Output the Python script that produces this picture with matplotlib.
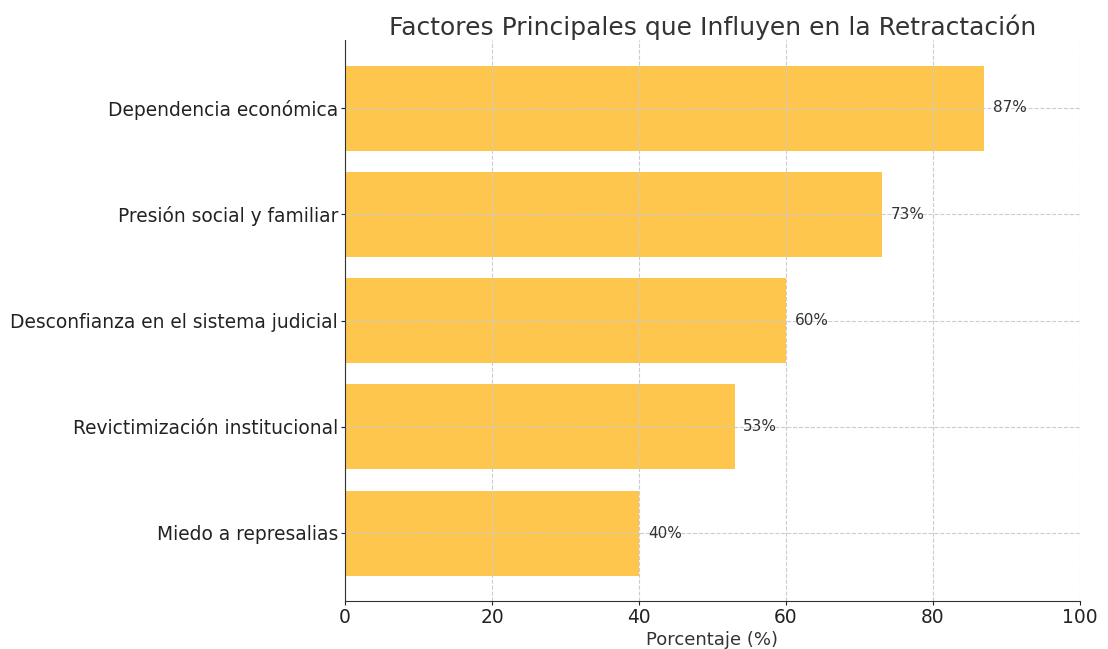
import matplotlib.pyplot as plt

# datos
factores = [
    "Miedo a represalias",
    "Revictimización institucional",
    "Desconfianza en el sistema judicial",
    "Presión social y familiar",
    "Dependencia económica",
]
porcentajes = [40, 53, 60, 73, 87]

color_barra = "#FFC64D"
color_texto = "#333333"

fig = plt.figure(figsize=(11.08, 6.49), dpi=100)
ax = fig.add_axes([345 / 1108, 48 / 649, 735 / 1108, 561 / 649])

bars = ax.barh(factores, porcentajes, color=color_barra, height=0.8)

for bar in bars:
    w = bar.get_width()
    ax.text(w + 1.2, bar.get_y() + bar.get_height() / 2, f"{w:.0f}%",
            va="center", ha="left", fontsize=11, color=color_texto)

ax.set_xlim(0, 100)
ax.set_xticks([0, 20, 40, 60, 80, 100])
ax.grid(True, linestyle="--", color="#cccccc", linewidth=0.8)
ax.tick_params(axis="both", labelsize=13.4, colors="#222222", length=3, pad=2)
ax.set_xlabel("Porcentaje (%)", fontsize=13, color=color_texto, labelpad=3)
ax.set_title("Factores Principales que Influyen en la Retractación",
             fontsize=18, color=color_texto, pad=3)

for side in ["top", "right"]:
    ax.spines[side].set_visible(False)
for side in ["left", "bottom"]:
    ax.spines[side].set_color("#333333")

plt.savefig("out.png", dpi=100)
